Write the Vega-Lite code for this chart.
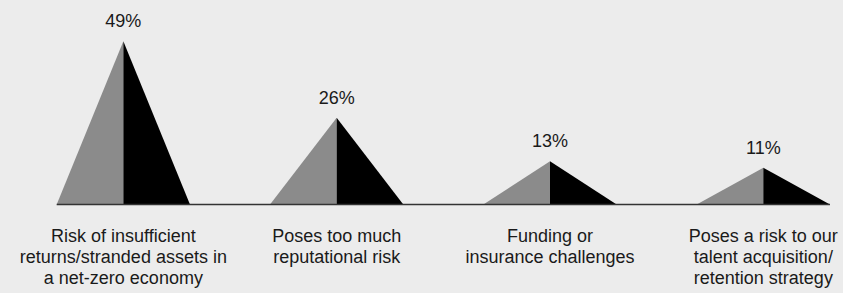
{
  "$schema": "https://vega.github.io/schema/vega-lite/v6.json",
  "width": 843,
  "height": 293,
  "autosize": {"type": "fit", "contains": "padding"},
  "padding": 0,
  "background": "#ececec",
  "config": {"view": {"stroke": null}, "font": "Liberation Sans"},
  "datasets": {
    "cats": [
      {"cat": "Risk of insufficient returns", "label": "Risk of insufficient\nreturns/stranded assets in\na net-zero economy", "v": 0.49},
      {"cat": "Reputational risk", "label": "Poses too much\nreputational risk", "v": 0.26},
      {"cat": "Funding or insurance", "label": "Funding or\ninsurance challenges", "v": 0.13},
      {"cat": "Talent risk", "label": "Poses a risk to our\ntalent acquisition/\nretention strategy", "v": 0.11}
    ],
    "vertices": [
      {"cat": "Risk of insufficient returns", "side": "left", "corner": "L", "v": 0},
      {"cat": "Risk of insufficient returns", "side": "left", "corner": "A", "v": 0.49},
      {"cat": "Risk of insufficient returns", "side": "right", "corner": "A", "v": 0.49},
      {"cat": "Risk of insufficient returns", "side": "right", "corner": "R", "v": 0},
      {"cat": "Reputational risk", "side": "left", "corner": "L", "v": 0},
      {"cat": "Reputational risk", "side": "left", "corner": "A", "v": 0.26},
      {"cat": "Reputational risk", "side": "right", "corner": "A", "v": 0.26},
      {"cat": "Reputational risk", "side": "right", "corner": "R", "v": 0},
      {"cat": "Funding or insurance", "side": "left", "corner": "L", "v": 0},
      {"cat": "Funding or insurance", "side": "left", "corner": "A", "v": 0.13},
      {"cat": "Funding or insurance", "side": "right", "corner": "A", "v": 0.13},
      {"cat": "Funding or insurance", "side": "right", "corner": "R", "v": 0},
      {"cat": "Talent risk", "side": "left", "corner": "L", "v": 0},
      {"cat": "Talent risk", "side": "left", "corner": "A", "v": 0.11},
      {"cat": "Talent risk", "side": "right", "corner": "A", "v": 0.11},
      {"cat": "Talent risk", "side": "right", "corner": "R", "v": 0}
    ]
  },
  "encoding": {
    "x": {
      "field": "cat",
      "type": "nominal",
      "axis": null,
      "scale": {
        "type": "band",
        "domain": ["Risk of insufficient returns", "Reputational risk", "Funding or insurance", "Talent risk"],
        "range": [16.7, 870],
        "paddingInner": 0,
        "paddingOuter": 0
      }
    }
  },
  "layer": [
    {
      "data": {"name": "vertices"},
      "mark": {"type": "area", "interpolate": "linear"},
      "encoding": {
        "xOffset": {
          "field": "corner",
          "type": "nominal",
          "scale": {"type": "point", "domain": ["L", "A", "R"], "range": [40, 173.3], "padding": 0}
        },
        "y": {
          "field": "v",
          "type": "quantitative",
          "stack": null,
          "axis": null,
          "scale": {"domain": [-0.266, 0.614], "nice": false, "zero": false}
        },
        "color": {
          "field": "side",
          "type": "nominal",
          "legend": null,
          "scale": {"domain": ["left", "right"], "range": ["#8b8b8b", "#000000"]}
        },
        "detail": {"field": "cat"}
      }
    },
    {
      "data": {"name": "vertices"},
      "transform": [{"filter": "datum.v === 0"}],
      "mark": {"type": "line", "color": "#333333", "strokeWidth": 1.5},
      "encoding": {
        "xOffset": {"field": "corner", "type": "nominal"},
        "y": {"field": "v", "type": "quantitative"},
        "order": {"value": null}
      }
    },
    {
      "data": {"name": "cats"},
      "mark": {"type": "text", "fontSize": 18, "color": "#1a1a1a", "baseline": "alphabetic", "dy": -14},
      "encoding": {
        "y": {"field": "v", "type": "quantitative"},
        "text": {"field": "v", "type": "quantitative", "format": ".0%"}
      }
    },
    {
      "data": {"name": "cats"},
      "mark": {"type": "text", "fontSize": 18, "color": "#1a1a1a", "baseline": "alphabetic", "dy": 38, "lineBreak": "\n", "lineHeight": 21},
      "encoding": {
        "y": {"datum": 0},
        "text": {"field": "label"}
      }
    }
  ]
}
